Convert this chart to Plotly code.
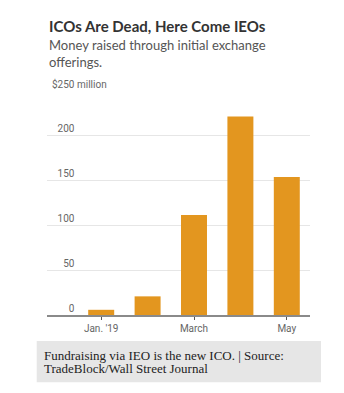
import plotly.graph_objects as go

months = ["Jan. '19", "Feb.", "March", "April", "May"]
raised = [5.8, 20.8, 111.5, 221.5, 154]
x_tick_labels = ["Jan. '19", "March", "May"]
y_tick_vals = [0, 50, 100, 150, 200, 250]
y_tick_text = ["\u2007\u2007\u20070", "\u2007\u200750", "\u2007100", "\u2007150", "\u2007200", "$250 million"]
caption_lines = ["Fundraising via IEO is the new ICO. | Source:", "TradeBlock/Wall Street Journal"]

W, H = 344, 393
L, R, T, B = 47, 34, 91, 78
ph = H - T - B

def py(Y):
    return (H - B - Y) / ph

def px(X):
    return (X - L) / (W - L - R)

fig = go.Figure(go.Bar(x=months, y=raised, marker=dict(color="#e3961f", line=dict(width=0))))

fig.update_layout(
    width=W, height=H,
    margin=dict(l=L, r=R, t=T, b=B),
    paper_bgcolor="white", plot_bgcolor="white",
    bargap=0.44,
    showlegend=False,
    font=dict(family="Roboto", color="#666"),
    xaxis=dict(
        type="category", range=[-1.168, 4.5],
        tickvals=x_tick_labels, ticktext=x_tick_labels,
        ticks="outside", ticklen=3, tickcolor="#555", tickwidth=1,
        showline=True, linecolor="#8a8a8a", linewidth=1.5,
        showgrid=False, tickfont=dict(size=10, color="#666"),
        fixedrange=True,
    ),
    yaxis=dict(
        range=[0, 250], tickvals=y_tick_vals, ticktext=y_tick_text,
        ticklabelposition="inside top", ticklabeloverflow="allow",
        ticklabelstandoff=2,
        showgrid=True, gridcolor="#e6e6e6", gridwidth=1,
        zeroline=False, showline=False, ticks="",
        tickfont=dict(size=10, color="#666"),
        fixedrange=True,
    ),
)

fig.add_annotation(text="<b>ICOs Are Dead, Here Come IEOs</b>", xref="paper", yref="paper",
                   x=px(47), y=py(15), xanchor="left", yanchor="top", showarrow=False,
                   font=dict(family="Lato", size=15, color="#333"), align="left")
fig.add_annotation(text="Money raised through initial exchange<br>offerings.", xref="paper", yref="paper",
                   x=px(47), y=py(35), xanchor="left", yanchor="top", showarrow=False,
                   font=dict(family="Lato", size=13, color="#555"), align="left")

fig.add_shape(type="rect", xref="paper", yref="paper", x0=px(36.7), x1=px(321), y0=py(382.3), y1=py(341),
              fillcolor="#e6e6e6", line=dict(width=0), layer="below")
for i, line in enumerate(caption_lines):
    fig.add_annotation(text=line, xref="paper", yref="paper", x=px(42), y=py(346 + 13.4 * i),
                       xanchor="left", yanchor="top", showarrow=False, align="left",
                       font=dict(family="Liberation Serif", size=13, color="#222"))

fig.write_html("out.html")
